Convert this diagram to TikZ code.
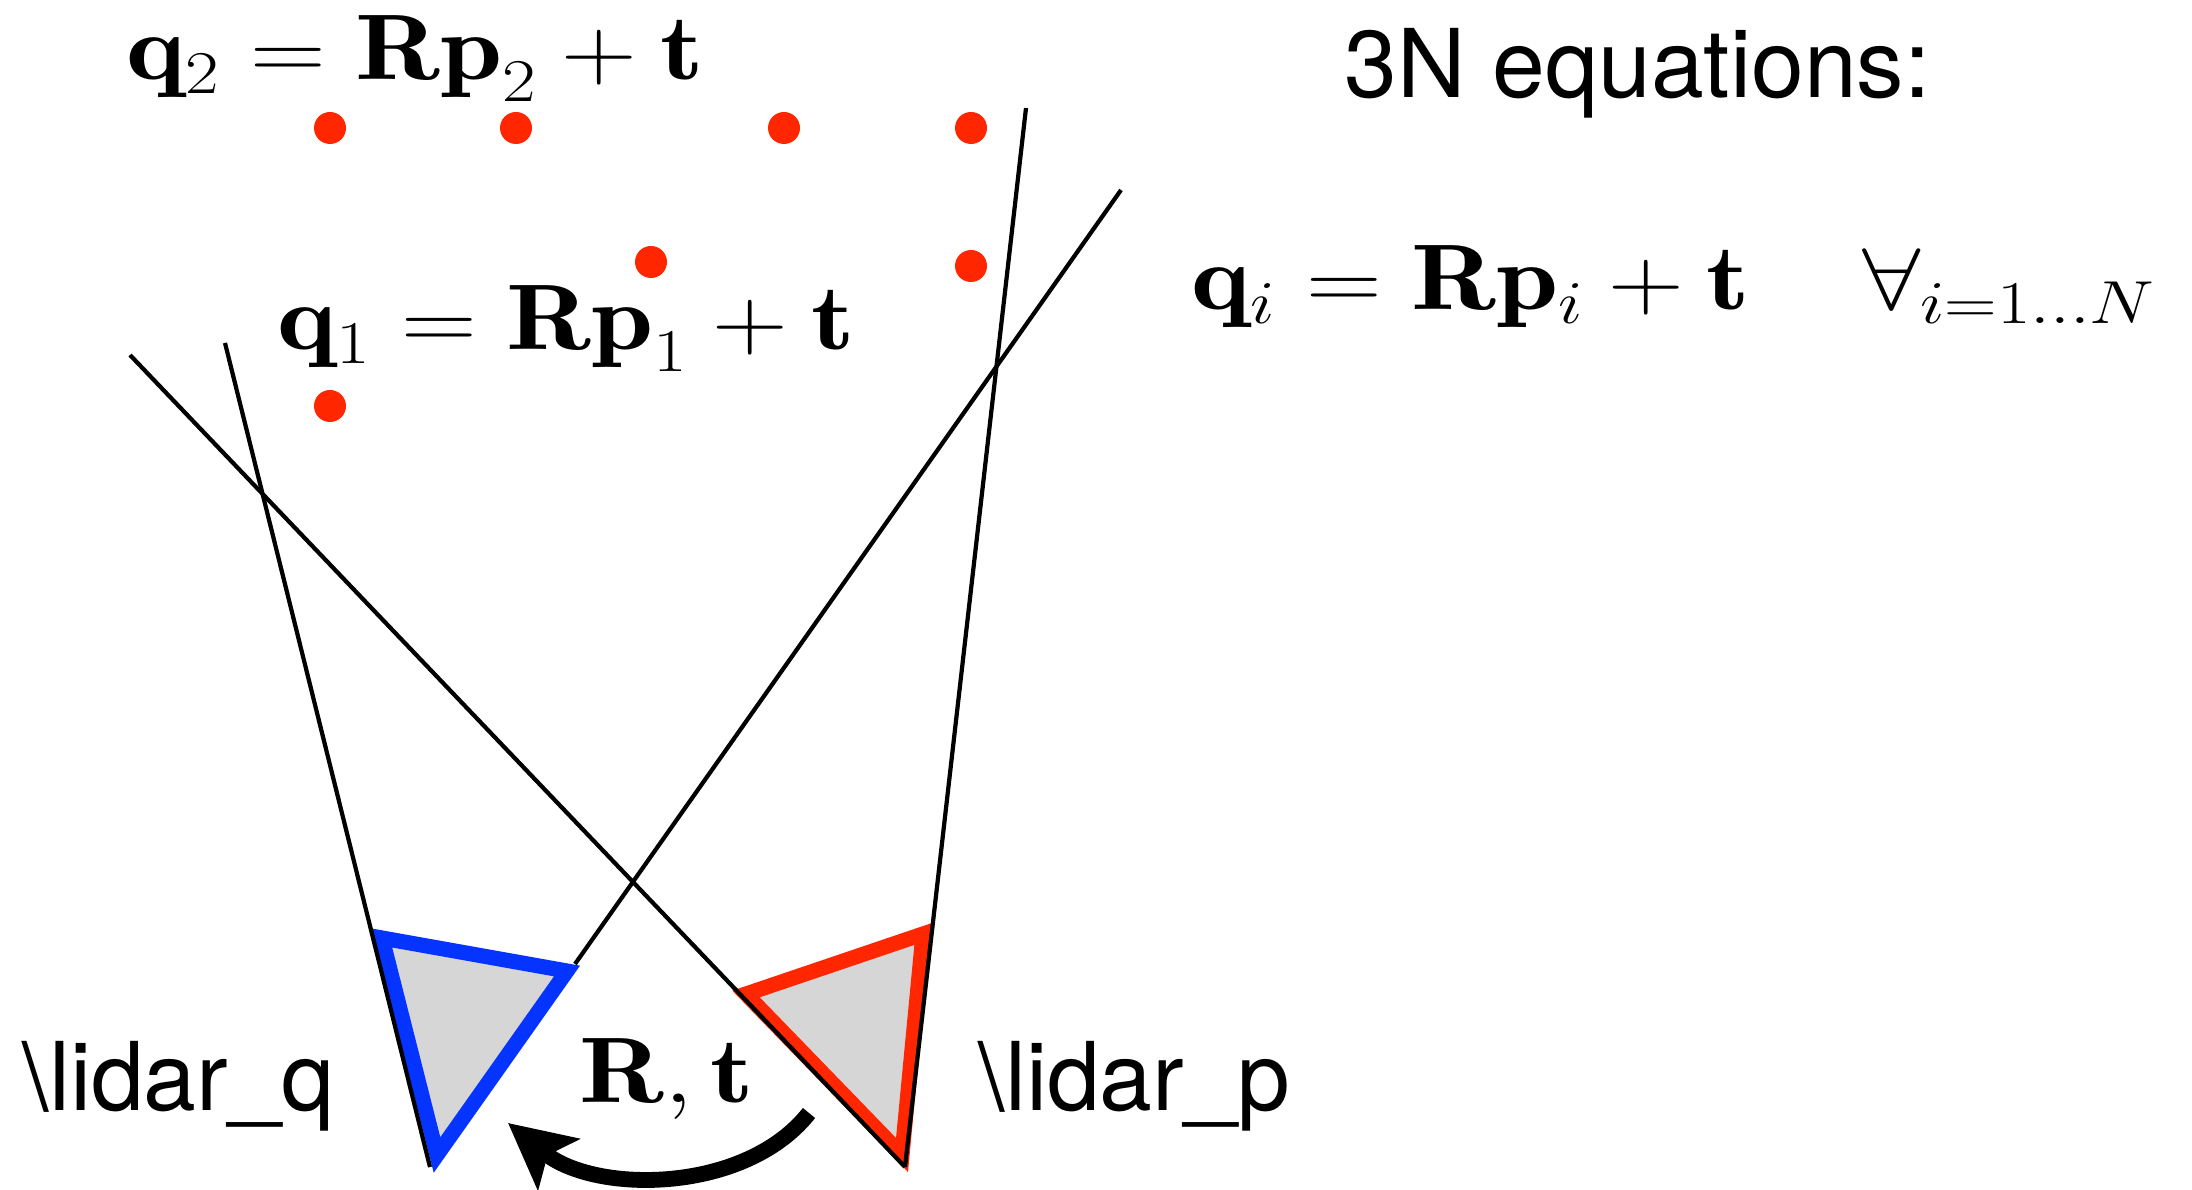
\documentclass[tikz,border=0pt]{standalone}
\usepackage{amsmath, amssymb}
\usepackage{fontspec}
\setsansfont{TeX Gyre Heros}
\usepackage{tikz}
\usetikzlibrary{arrows.meta, calc}
\definecolor{ptred}{RGB}{255,38,0}
\definecolor{lidarblue}{RGB}{5,51,255}
\definecolor{conegray}{RGB}{214,214,214}
\newcommand{\bfp}{{\hbox{$\mathbf{p}$}}}

\begin{document}
\begin{tikzpicture}[>=Stealth,
    ray/.style={line width=1.2pt, black},
    cone/.style={line width=4.3pt, fill=conegray, line join=miter},
    pt/.style={circle, fill=ptred, inner sep=0pt, minimum size=3.2mm},
    eqn/.style={inner sep=0pt, anchor=base west, xscale=1.2, transform shape,
        font=\fontsize{26.5}{31}\selectfont},
    lbl/.style={inner sep=0pt, anchor=base west, font=\sffamily\fontsize{27}{32}\selectfont}]
    \useasboundingbox (0,0) rectangle (21.92,11.89);
    % sensor origins and ray ends
    \coordinate (qorig) at (4.30,0.22);
    \coordinate (porig) at (9.05,0.22);
    \coordinate (qleft) at (2.25,8.46);
    \coordinate (qright) at (11.21,9.99);
    \coordinate (pleft) at (1.30,8.34);
    \coordinate (pright) at (10.26,10.81);
    % lidar q (blue) and lidar p (red)
    \draw[cone, draw=lidarblue] (3.82,2.51) coordinate (qa) -- (5.67,2.18) coordinate (qb)
        -- (4.37,0.34) coordinate (qc) -- cycle;
    \draw[cone, draw=ptred] (7.46,1.95) coordinate (pa) -- (9.23,2.55) coordinate (pb)
        -- (9.02,0.34) coordinate (pc) -- cycle;
    % fields of view
    \draw[ray] (qleft) -- (qorig);
    \draw[ray] (qright) -- (5.75,2.25);
    \draw[ray] (pleft) -- (porig);
    \draw[ray] (pright) -- (porig);
    % points
    \foreach \n/\pos in {1/{3.30,10.61}, 2/{5.16,10.61}, 3/{7.84,10.61}, 4/{9.71,10.61},
                         5/{6.51,9.27}, 6/{9.71,9.23}, 7/{3.30,7.83}}
        \node[pt] (pt\n) at (\pos) {};
    % equations
    \node[eqn] (eqtwo) at (1.26,11.09) {$\mathbf{q}_2 = \mathbf{R}\bfp_2 + \mathbf{t}$};
    \node[eqn] (eqone) at (2.77,8.39) {$\mathbf{q}_1 = \mathbf{R}\bfp_1 + \mathbf{t}$};
    \node[eqn] (eqall) at (11.91,8.79) {$\mathbf{q}_i = \mathbf{R}\mathbf{p}_i + \mathbf{t} \quad \forall_{i=1\ldots N}$};
    \node[lbl] (count) at (13.44,10.91) {3N equations:};
    % labels
    \node[lbl] (lidq) at (0.22,0.79) {\textbackslash lidar\_q};
    \node[lbl] (lidp) at (9.78,0.79) {\textbackslash lidar\_p};
    \node[eqn] (rt) at (5.79,0.87) {$\mathbf{R},\mathbf{t}$};
    % transform p -> q
    \coordinate (rtfrom) at (8.09,0.76);
    \coordinate (rtto) at (5.08,0.66);
    \draw[line width=4.5pt, -{Stealth[length=6.5mm, width=6.5mm, inset=1.4mm]}]
        (rtfrom) .. controls (7.45,-0.05) and (5.95,-0.05) .. (rtto);
\end{tikzpicture}
\end{document}
